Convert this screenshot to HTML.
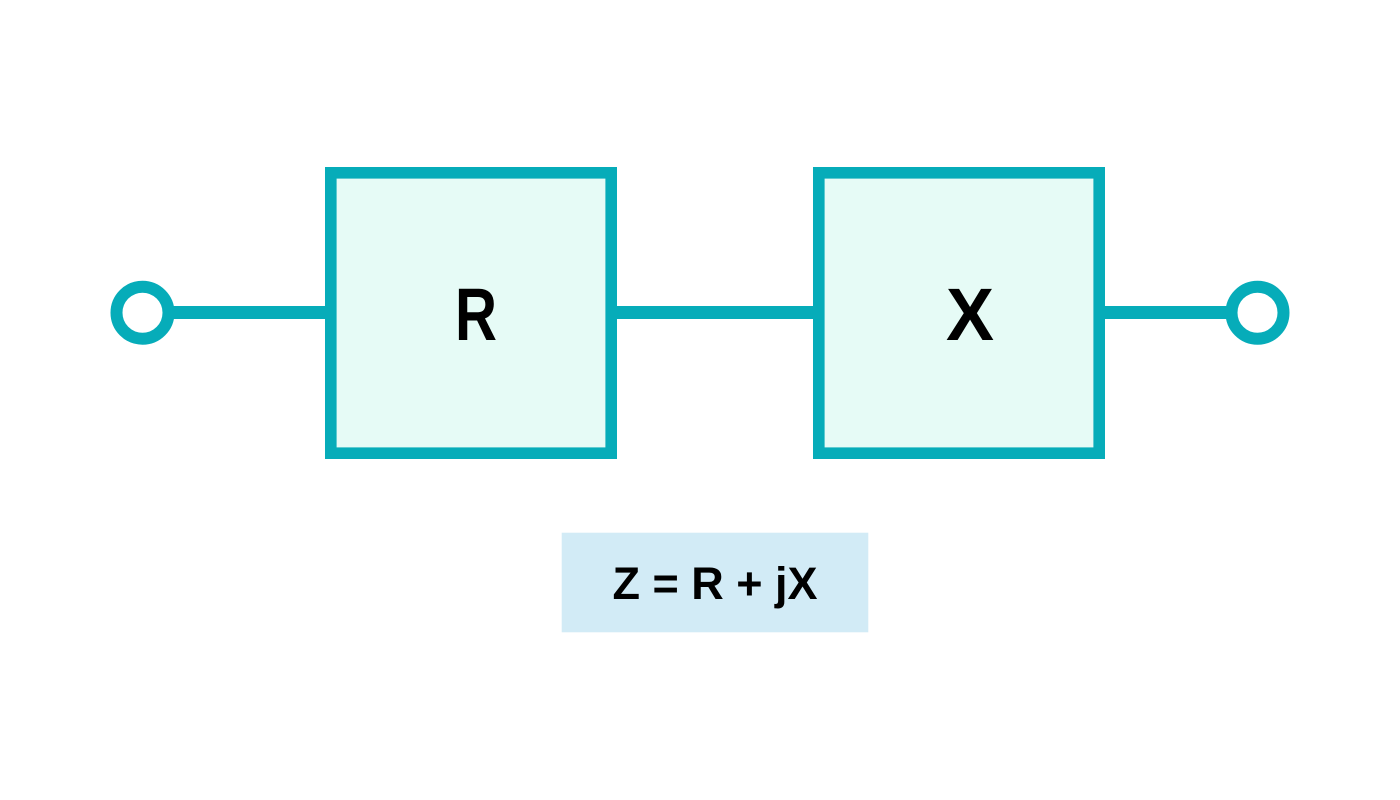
<!DOCTYPE html>
<html>
<head>
<meta charset="utf-8">
<style>
  html, body { margin: 0; padding: 0; background: #ffffff; }
  body { width: 1400px; height: 800px; overflow: hidden; }
  svg { display: block; }
  text { font-family: "Liberation Sans", Arial, sans-serif; font-weight: bold; fill: #000; }
</style>
</head>
<body>
<svg width="1400" height="800" viewBox="0 0 1400 800" xmlns="http://www.w3.org/2000/svg">
  <rect x="0" y="0" width="1400" height="800" fill="#ffffff"/>
  <!-- connecting lines -->
  <line x1="170" y1="312.5" x2="331" y2="312.5" stroke="#06acb9" stroke-width="13"/>
  <line x1="611" y1="312.5" x2="819" y2="312.5" stroke="#06acb9" stroke-width="13"/>
  <line x1="1099" y1="312.5" x2="1230" y2="312.5" stroke="#06acb9" stroke-width="13"/>
  <!-- terminals -->
  <circle cx="142.5" cy="312.7" r="26" fill="#ffffff" stroke="#06acb9" stroke-width="12"/>
  <circle cx="1257.5" cy="312.7" r="26" fill="#ffffff" stroke="#06acb9" stroke-width="12"/>
  <!-- boxes -->
  <rect x="330.8" y="172.8" width="280.4" height="280.4" fill="#e6fbf6" stroke="#06acb9" stroke-width="11.6"/>
  <rect x="818.8" y="172.8" width="280.4" height="280.4" fill="#e6fbf6" stroke="#06acb9" stroke-width="11.6"/>
  <text x="455" y="340" font-size="74" textLength="42" lengthAdjust="spacingAndGlyphs">R</text>
  <text x="946" y="340" font-size="74" textLength="48" lengthAdjust="spacingAndGlyphs">X</text>
  <!-- formula -->
  <rect x="561.7" y="532.7" width="306.6" height="99.6" fill="#d2ebf6"/>
  <text x="715" y="599" font-size="45" text-anchor="middle">Z = R + jX</text>
</svg>
</body>
</html>
